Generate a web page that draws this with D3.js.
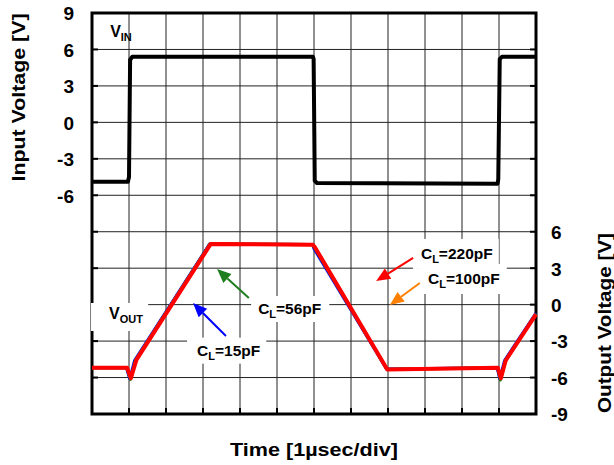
<!DOCTYPE html>
<html>
<head>
<meta charset="utf-8">
<script src="https://cdn.jsdelivr.net/npm/d3@7/dist/d3.min.js"></script>
<style>
  body { margin: 0; background: #fff; }
  text { font-family: "Liberation Sans", Arial, sans-serif; font-weight: bold; fill: #000; }
</style>
</head>
<body>
<div id="chart"></div>
<script>
// grid / tick values
const timeTicks = [0, 1, 2, 3, 4, 5, 6, 7, 8, 9, 10, 11, 12];
const gridVolts = [9, 6, 3, 0, -3, -6, -9, -12, -15, -18, -21, -24]; // input-scale units
const inputTicks = [9, 6, 3, 0, -3, -6];
const outputTicks = [6, 3, 0, -3, -6, -9];

// V_IN (time in divisions, volts)
const vinTime  = [0, 0.97, 1.0, 1.03, 1.09, 5.97, 5.99, 6.02, 6.08, 10.96, 10.98, 11.02, 11.08, 12];
const vinValue = [-4.88, -4.88, -4.5, 5.15, 5.4, 5.4, 5.2, -4.8, -5.0, -5.05, -4.7, 5.2, 5.4, 5.4];

// V_OUT for each load capacitance
const voutTime15  = [0, 0.93, 1.02, 1.15, 3.18, 5.96, 6.0, 7.96, 10.95, 11.02, 11.15, 12];
const voutValue15 = [-5.2, -5.2, -6.1, -4.6, 5.0, 4.95, 4.6, -5.3, -5.2, -6.1, -4.6, -0.7];
const voutTime56  = [0, 0.94, 1.04, 1.17, 3.19, 5.97, 6.01, 7.97, 10.96, 11.04, 11.17, 12];
const voutValue56 = [-5.2, -5.2, -6.15, -4.6, 5.0, 4.94, 4.7, -5.32, -5.2, -6.2, -4.6, -0.75];
const voutTime100  = [0, 0.95, 1.05, 1.19, 3.2, 5.97, 6.02, 7.98, 10.97, 11.05, 11.18, 12];
const voutValue100 = [-5.2, -5.2, -6.1, -4.55, 5.0, 4.93, 4.75, -5.33, -5.2, -6.1, -4.6, -0.8];
const voutTime220  = [0, 0.95, 1.05, 1.2, 3.21, 5.97, 6.02, 7.98, 10.97, 11.05, 11.18, 12];
const voutValue220 = [-5.2, -5.2, -6.05, -4.55, 5.0, 4.93, 4.75, -5.33, -5.2, -6.05, -4.6, -0.8];

const margin = { top: 13, right: 78, bottom: 51, left: 92 };
const width = 614 - margin.left - margin.right;
const height = 465 - margin.top - margin.bottom;

const svg = d3.select("#chart")
  .append("svg")
  .attr("width", 614)
  .attr("height", 465)
  .append("g")
  .attr("transform", `translate(${margin.left},${margin.top})`);

const x = d3.scaleLinear().domain([0, 12]).range([0, width]);
const yIn = d3.scaleLinear().domain([-24, 9]).range([height, 0]);
const yOut = d3.scaleLinear().domain([-9, 24]).range([height, 0]);

// grid
svg.append("g")
  .selectAll("line")
  .data(timeTicks)
  .enter().append("line")
  .attr("x1", d => x(d)).attr("x2", d => x(d))
  .attr("y1", 0).attr("y2", height)
  .attr("stroke", "#222").attr("stroke-width", 1);

svg.append("g")
  .selectAll("line")
  .data(gridVolts)
  .enter().append("line")
  .attr("x1", 0).attr("x2", width)
  .attr("y1", d => yIn(d)).attr("y2", d => yIn(d))
  .attr("stroke", "#222").attr("stroke-width", 1);

// axes (plain hyphen for negatives)
const leftAxis = svg.append("g")
  .call(d3.axisLeft(yIn).tickValues(inputTicks).tickFormat(d => String(d)).tickSize(0).tickPadding(18));
const rightAxis = svg.append("g")
  .attr("transform", `translate(${width},0)`)
  .call(d3.axisRight(yOut).tickValues(outputTicks).tickFormat(d => String(d)).tickSize(0).tickPadding(15));
[leftAxis, rightAxis].forEach(a => {
  a.select(".domain").remove();
  a.selectAll("text")
    .style("font-family", '"Liberation Sans", Arial, sans-serif')
    .style("font-weight", "bold")
    .style("font-size", "19px")
    .attr("dy", "0.36em");
});

// inward tick marks
svg.append("g")
  .selectAll("line")
  .data(gridVolts)
  .enter().append("line")
  .attr("x1", 0).attr("x2", 6)
  .attr("y1", d => yIn(d)).attr("y2", d => yIn(d))
  .attr("stroke", "#000").attr("stroke-width", 2);
svg.append("g")
  .selectAll("line")
  .data(gridVolts)
  .enter().append("line")
  .attr("x1", width - 6).attr("x2", width)
  .attr("y1", d => yIn(d)).attr("y2", d => yIn(d))
  .attr("stroke", "#000").attr("stroke-width", 2);
svg.append("g")
  .selectAll("line")
  .data(timeTicks)
  .enter().append("line")
  .attr("x1", d => x(d)).attr("x2", d => x(d))
  .attr("y1", height - 6).attr("y2", height)
  .attr("stroke", "#000").attr("stroke-width", 2);

// frame
svg.append("rect")
  .attr("width", width)
  .attr("height", height)
  .attr("fill", "none")
  .attr("stroke", "#000")
  .attr("stroke-width", 3);

// waveforms
const vinLine = d3.line()
  .x(i => x(vinTime[i]))
  .y(i => yIn(vinValue[i]));

svg.append("path")
  .attr("d", vinLine(vinTime.map((d, i) => i)))
  .attr("fill", "none")
  .attr("stroke", "#000")
  .attr("stroke-width", 4)
  .attr("stroke-linejoin", "round");

const voutSeries = [
  { t: voutTime15, v: voutValue15, color: "#0000ff", w: 3 },
  { t: voutTime56, v: voutValue56, color: "#008000", w: 3 },
  { t: voutTime100, v: voutValue100, color: "#ff7f00", w: 3 },
  { t: voutTime220, v: voutValue220, color: "#ff0000", w: 4 }
];

voutSeries.forEach(s => {
  const line = d3.line()
    .x(i => x(s.t[i]))
    .y(i => yOut(s.v[i]));
  svg.append("path")
    .attr("d", line(s.t.map((d, i) => i)))
    .attr("fill", "none")
    .attr("stroke", s.color)
    .attr("stroke-width", s.w)
    .attr("stroke-linejoin", "round");
});

// arrows (output-scale coordinates: tail -> head)
const arrows = [
  { t0: 4.24, v0: 0.55, t1: 3.38, v1: 2.93, color: "#1e7d1e" },
  { t0: 3.62, v0: -2.58, t1: 2.73, v1: 0.13, color: "#0000ff" },
  { t0: 8.68, v0: 3.84, t1: 7.68, v1: 1.95, color: "#ff0000" },
  { t0: 8.86, v0: 1.78, t1: 8.05, v1: -0.03, color: "#ff7f00" }
];

// labels with white boxes
const labels = [
  { main: "C", sub: "L", rest: "=56pF", t: 4.49, v: -0.77, scale: "out", size: 15.5, pad: [7, 8, 4, 6] },
  { main: "C", sub: "L", rest: "=15pF", t: 2.84, v: -4.2, scale: "out", size: 15.5, pad: [10, 6, 4, 6] },
  { main: "C", sub: "L", rest: "=220pF", t: 8.89, v: 3.76, scale: "out", size: 15.5, pad: [8, 6, 6, 8] },
  { main: "C", sub: "L", rest: "=100pF", t: 9.08, v: 1.7, scale: "out", size: 15.5, pad: [8, 7, 6, 8] },
  { main: "V", sub: "OUT", rest: "", t: 0.46, v: -1.18, scale: "out", size: 16, pad: [18, 5, 2, 10] },
  { main: "V", sub: "IN", rest: "", t: 0.49, v: 7.02, scale: "in", size: 16, pad: [0, 0, 0, 0] }
];

const boxLayer = svg.append("g");
labels.forEach(l => {
  const yS = l.scale === "in" ? yIn : yOut;
  const txt = svg.append("text")
    .attr("x", x(l.t))
    .attr("y", yS(l.v))
    .style("font-size", l.size + "px");
  txt.append("tspan").text(l.main);
  txt.append("tspan").attr("dy", 4).style("font-size", "11px").text(l.sub);
  if (l.rest) txt.append("tspan").attr("dy", -4).text(l.rest);
  if (l.pad[0] + l.pad[1] > 0) {
    const b = txt.node().getBBox();
    boxLayer.append("rect")
      .attr("x", b.x - l.pad[0])
      .attr("y", b.y - l.pad[2])
      .attr("width", b.width + l.pad[0] + l.pad[1])
      .attr("height", b.height + l.pad[2] + l.pad[3] - 4)
      .attr("fill", "#fff");
  }
});

// arrows drawn after boxes
arrows.forEach(a => {
  const x0 = x(a.t0), y0 = yOut(a.v0), x1 = x(a.t1), y1 = yOut(a.v1);
  const ang = Math.atan2(y1 - y0, x1 - x0);
  const len = 14, half = 6;
  const bx = x1 - len * Math.cos(ang), by = y1 - len * Math.sin(ang);
  svg.append("line")
    .attr("x1", x0).attr("y1", y0)
    .attr("x2", bx).attr("y2", by)
    .attr("stroke", a.color)
    .attr("stroke-width", 2);
  svg.append("polygon")
    .attr("points", [
      [x1, y1],
      [bx + half * Math.sin(ang), by - half * Math.cos(ang)],
      [bx - half * Math.sin(ang), by + half * Math.cos(ang)]
    ].map(p => p.join(",")).join(" "))
    .attr("fill", a.color);
});

// axis titles
svg.append("text")
  .attr("text-anchor", "middle")
  .attr("transform", `translate(${25 - margin.left},${97.5 - margin.top}) rotate(-90)`)
  .attr("textLength", 168)
  .attr("lengthAdjust", "spacingAndGlyphs")
  .style("font-size", "18px")
  .text("Input Voltage [V]");

svg.append("text")
  .attr("text-anchor", "middle")
  .attr("transform", `translate(${611 - margin.left},${323 - margin.top}) rotate(-90)`)
  .attr("textLength", 180)
  .attr("lengthAdjust", "spacingAndGlyphs")
  .style("font-size", "18px")
  .text("Output Voltage [V]");

svg.append("text")
  .attr("text-anchor", "middle")
  .attr("x", width / 2)
  .attr("y", 456 - margin.top)
  .attr("textLength", 168)
  .attr("lengthAdjust", "spacingAndGlyphs")
  .style("font-size", "18px")
  .text("Time [1µsec/div]");
</script>
</body>
</html>
